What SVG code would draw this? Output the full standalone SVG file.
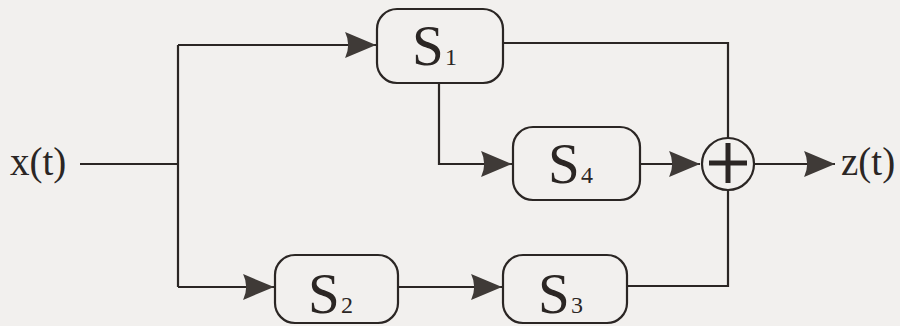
<svg xmlns="http://www.w3.org/2000/svg" width="900" height="326" viewBox="0 0 900 326">
  <defs>
    <marker id="arr" markerUnits="userSpaceOnUse" markerWidth="34" markerHeight="28" viewBox="-31 -13 33 26" refX="0" refY="0" orient="auto">
      <path d="M0,0 L-30,-12.5 Q-24,0 -30,12.5 Z" fill="#3f3a37"/>
    </marker>
    <style>
      .box { fill: none; stroke: #2b2624; stroke-width: 2.2; }
      .ln { fill: none; stroke: #2b2624; stroke-width: 2.2; }
      .big { font-family: 'Liberation Serif', serif; font-size: 57px; fill: #2b2624; }
      .sub { font-family: 'Liberation Serif', serif; font-size: 24px; fill: #2b2624; }
      .lbl { font-family: 'Liberation Serif', serif; font-size: 39px; fill: #2b2624; }
    </style>
  </defs>
  <rect x="0" y="0" width="900" height="326" fill="#f2f0ee"/>

  <g id="connectors">
    <path class="ln" d="M80,164 H178"/>
    <path class="ln" d="M178,45 V287"/>
    <path class="ln" d="M178,45 H376" marker-end="url(#arr)"/>
    <path class="ln" d="M178,287 H274" marker-end="url(#arr)"/>
    <path class="ln" d="M398,287 H502" marker-end="url(#arr)"/>
    <path class="ln" d="M439,83 V164 H512" marker-end="url(#arr)"/>
    <path class="ln" d="M640,164 H700" marker-end="url(#arr)"/>
    <path class="ln" d="M755,164 H835" marker-end="url(#arr)"/>
    <path class="ln" d="M503,43 H728 V138"/>
    <path class="ln" d="M627,286 H728 V190"/>
  </g>

  <g id="input">
    <text class="lbl" x="10" y="175">x(t)</text>
  </g>

  <g id="S1">
    <rect class="box" x="377" y="9" width="126" height="74" rx="20" ry="20"/>
    <text class="big" x="412" y="65">S</text>
    <text class="sub" x="445" y="65">1</text>
  </g>

  <g id="S4">
    <rect class="box" x="513" y="127" width="127" height="73" rx="20" ry="20"/>
    <text class="big" x="548" y="183">S</text>
    <text class="sub" x="581" y="183">4</text>
  </g>

  <g id="S2">
    <rect class="box" x="275" y="255" width="123" height="68" rx="20" ry="20"/>
    <text class="big" x="308" y="313">S</text>
    <text class="sub" x="341" y="313">2</text>
  </g>

  <g id="S3">
    <rect class="box" x="503" y="255" width="124" height="68" rx="20" ry="20"/>
    <text class="big" x="538" y="313">S</text>
    <text class="sub" x="571" y="313">3</text>
  </g>

  <g id="sum">
    <circle class="box" cx="728" cy="164" r="26"/>
    <path d="M709,163 H747 M728,143 V183" stroke="#2b2624" stroke-width="5" fill="none"/>
  </g>

  <g id="output">
    <text class="lbl" x="841" y="175">z(t)</text>
  </g>
</svg>
